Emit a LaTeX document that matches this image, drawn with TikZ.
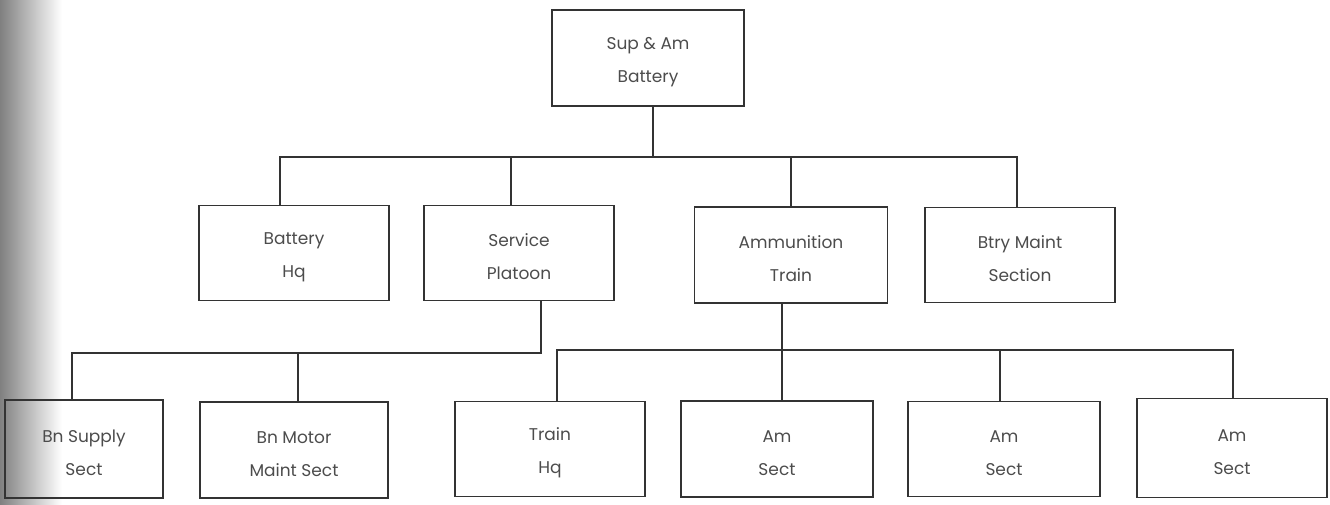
\documentclass[tikz,border=0pt]{standalone}
\usepackage{fontspec}
\setmainfont{Poppins}
\newcommand\tup{\rule{0pt}{21pt}}
\begin{document}
\begin{tikzpicture}[x=1pt,y=-1pt,
  orgbox/.style={draw=black!80, line width=1.8pt, rectangle, minimum width=190pt, minimum height=95pt,
    inner sep=0pt, align=center, text=black!70, font=\fontsize{17}{33}\selectfont},
  link/.style={draw=black!80, line width=1.8pt}]
\useasboundingbox (0,0) rectangle (1330,504);
\shade[left color=black!50, right color=white] (0,0) rectangle (62,504);
% level 1
\node[orgbox, minimum width=192pt, minimum height=96pt] (top) at (648,58) {\tup Sup \& Am\\Battery};
% level 2
\node[orgbox] (bh) at (294,253) {\tup Battery\\Hq};
\node[orgbox] (sp) at (519,253) {\tup Service\\Platoon};
\node[orgbox, minimum width=193pt, minimum height=96pt] (at) at (791,255) {\tup Ammunition\\Train};
\node[orgbox] (bm) at (1020,255) {\tup Btry Maint\\Section};
% level 3
\node[orgbox, minimum width=158pt, minimum height=98pt] (bs) at (84,449) {\tup Bn Supply\\Sect};
\node[orgbox, minimum width=188pt, minimum height=96pt] (mm) at (294,450) {\tup Bn Motor\\Maint Sect};
\node[orgbox] (th) at (550,449) {\tup Train\\Hq};
\node[orgbox, minimum width=192pt, minimum height=96pt] (a1) at (777,449) {\tup Am\\Sect};
\node[orgbox, minimum width=192pt] (a2) at (1004,449) {\tup Am\\Sect};
\node[orgbox, minimum height=99pt] (a3) at (1232,448) {\tup Am\\Sect};
% connectors level 1-2
\coordinate (j0) at (653,157);
\coordinate (j1) at (280,157);
\coordinate (j2) at (511,157);
\coordinate (j3) at (791,157);
\coordinate (j4) at (1017,157);
\draw[link] (top.south -| j0) -- (j0);
\draw[link] (j1 |- bh.north) -- (j1) -- (j4) -- (j4 |- bm.north);
\draw[link] (j2) -- (j2 |- sp.north);
\draw[link] (j3) -- (j3 |- at.north);
% connectors service platoon
\coordinate (k0) at (541,353);
\coordinate (k1) at (72,353);
\coordinate (k2) at (298,353);
\draw[link] (k0 |- sp.south) -- (k0) -- (k1) -- (k1 |- bs.north);
\draw[link] (k2) -- (k2 |- mm.north);
% connectors ammunition train
\coordinate (m0) at (782,350);
\coordinate (m1) at (557,350);
\coordinate (m2) at (1000,350);
\coordinate (m3) at (1233,350);
\draw[link] (m0 |- at.south) -- (m0 |- a1.north);
\draw[link] (m1 |- th.north) -- (m1) -- (m3) -- (m3 |- a3.north);
\draw[link] (m2) -- (m2 |- a2.north);
\end{tikzpicture}
\end{document}
